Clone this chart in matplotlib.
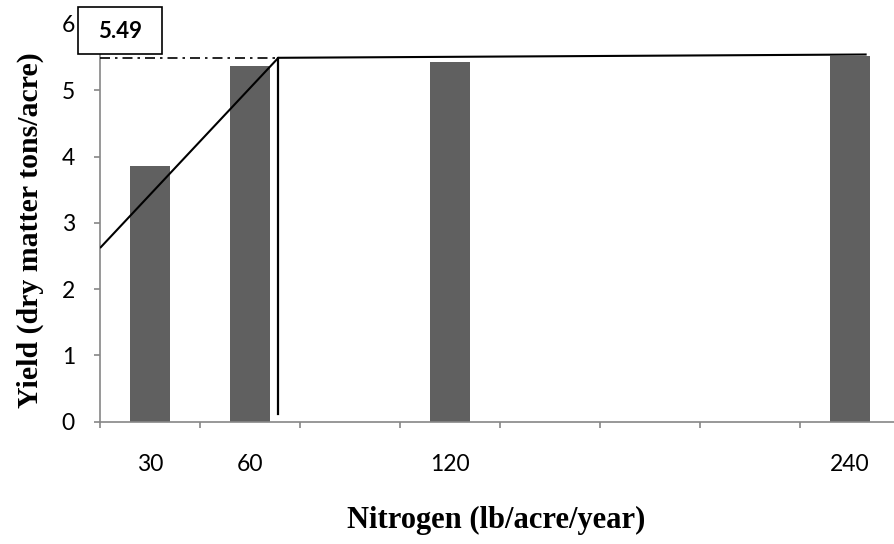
import matplotlib
matplotlib.use("Agg")
import matplotlib.pyplot as plt
from matplotlib.patches import Rectangle

# Data
nitrogen = [30, 60, 120, 240]
yield_vals = [3.86, 5.36, 5.42, 5.52]
tick_labels = ["30", "60", "120", "240"]

# Linear-plateau model
model_x = [15, 68.5, 245]
model_y = [2.62, 5.49, 5.54]
breakpoint_x = 68.5
breakpoint_y = 5.49
vline_bottom = 0.12

W, H = 895, 544
fig = plt.figure(figsize=(W / 100, H / 100), dpi=100)
ax = fig.add_axes([100 / W, (H - 421.7) / H, 800 / W, 397.7 / H])

ax.bar(nitrogen, yield_vals, width=12, color="#606060", zorder=1)
ax.plot(model_x, model_y, color="black", lw=1.5, zorder=3, solid_capstyle="butt")
ax.plot([breakpoint_x, breakpoint_x], [vline_bottom, breakpoint_y], color="black", lw=1.6, zorder=3)
ax.plot([15, breakpoint_x], [breakpoint_y, breakpoint_y], color="black", lw=1.2,
        linestyle=(0, (6, 3, 1.5, 3)), zorder=3)

ax.set_xlim(15, 255)
ax.set_ylim(0, 6)

gray = "#868686"
for s in ["top", "right"]:
    ax.spines[s].set_visible(False)
for s in ["left", "bottom"]:
    ax.spines[s].set_color(gray)
    ax.spines[s].set_linewidth(1.2)

tick_font = "Lato"
ax.set_yticks(range(0, 7))
ax.set_yticklabels([str(v) for v in range(0, 7)], fontsize=16.5, fontfamily=tick_font)
ax.tick_params(axis="y", direction="out", length=4, width=1.2, color=gray, pad=14)

ax.set_xticks(list(range(15, 256, 30)))
ax.set_xticklabels([])
ax.tick_params(axis="x", which="major", direction="out", length=4, width=1.2, color=gray)
ax.set_xticks(nitrogen, minor=True)
ax.set_xticklabels(tick_labels, minor=True, fontsize=16.5, fontfamily=tick_font)
ax.tick_params(axis="x", which="minor", length=0, pad=23)

fig.text(496 / W, 1 - 520 / H, "Nitrogen (lb/acre/year)", ha="center", va="center",
         fontsize=22, fontweight="bold", fontfamily="Liberation Serif")
fig.text(30 / W, 1 - 230 / H, "Yield (dry matter tons/acre)", ha="center", va="center",
         rotation=90, fontsize=21.5, fontweight="bold", fontfamily="Liberation Serif")

fig.patches.append(Rectangle((78 / W, 1 - 54 / H), 84 / W, 47 / H, transform=fig.transFigure,
                             facecolor="white", edgecolor="black", lw=1.2))
fig.text(120 / W, 1 - 31 / H, f"{breakpoint_y:.2f}", ha="center", va="center",
         fontsize=16, fontweight="bold", fontfamily=tick_font)

fig.savefig("out.png", dpi=100)
